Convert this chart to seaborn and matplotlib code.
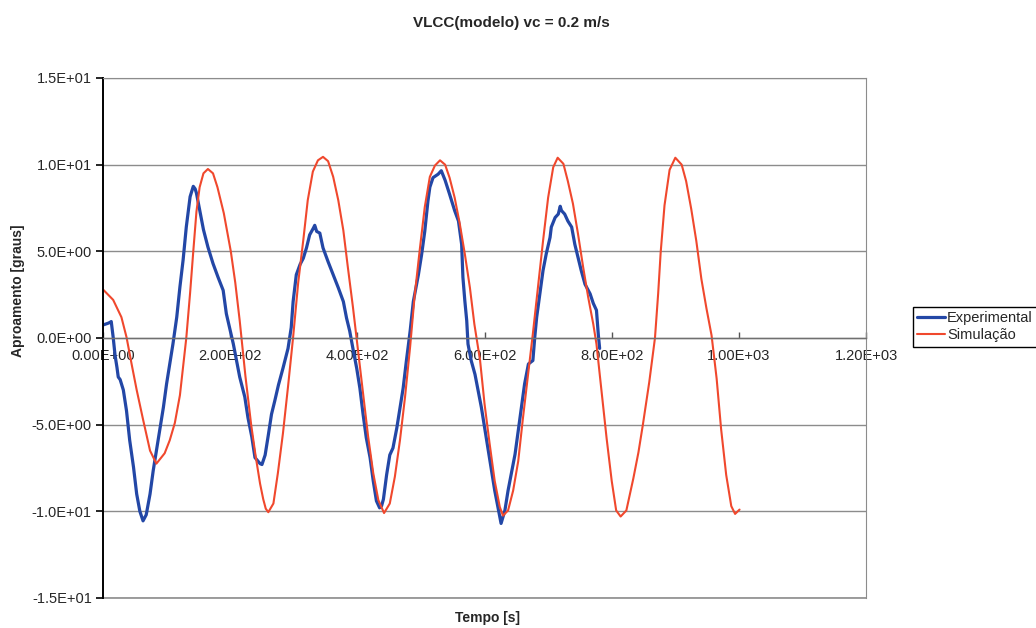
import matplotlib
matplotlib.use("Agg")
import matplotlib.pyplot as plt
from matplotlib.ticker import FuncFormatter
import seaborn as sns
import pandas as pd

# Experimental heading record (time in s, heading in degrees)
exp_t = [0, 8, 11, 13, 16, 19, 22, 24, 27, 32,
         37, 42, 48, 53, 58, 63, 68, 74, 79, 84,
         90, 95, 100, 105, 110, 116, 121, 126, 131, 137,
         142, 145, 147, 152, 158, 165, 173, 181, 189, 194,
         200, 205, 210, 215, 223, 228, 234, 239, 247, 250,
         255, 260, 265, 270, 276, 283, 291, 296, 299, 304,
         310, 315, 320, 325, 331, 333, 336, 341, 346, 354,
         362, 370, 378, 383, 388, 393, 399, 404, 409, 414,
         420, 425, 430, 435, 438, 441, 446, 451, 456, 462,
         467, 472, 477, 483, 488, 496, 501, 506, 511, 514,
         519, 527, 532, 538, 545, 553, 559, 564, 566, 569,
         572, 574, 579, 585, 590, 595, 600, 606, 611, 616,
         621, 626, 632, 637, 642, 648, 653, 658, 663, 669,
         676, 679, 682, 687, 692, 697, 703, 705, 711, 716,
         719, 721, 726, 731, 737, 742, 747, 752, 758, 766,
         771, 776, 779, 781]
exp_v = [0.75, 0.85, 0.9, 0.95, 0.05, -1.0, -1.7, -2.25, -2.4, -3.0,
         -4.2, -5.9, -7.45, -9.0, -10.0, -10.55, -10.2, -9.0, -7.65, -6.5,
         -5.15, -4.0, -2.65, -1.5, -0.35, 1.2, 2.95, 4.5, 6.4, 8.15,
         8.75, 8.6, 8.35, 7.4, 6.25, 5.25, 4.3, 3.5, 2.75, 1.4,
         0.45, -0.35, -1.3, -2.25, -3.4, -4.6, -5.7, -6.9, -7.25, -7.3,
         -6.75, -5.6, -4.4, -3.65, -2.7, -1.75, -0.6, 0.6, 2.1, 3.65,
         4.25, 4.6, 5.2, 5.95, 6.35, 6.5, 6.15, 6.05, 5.2, 4.4,
         3.65, 2.9, 2.1, 1.15, 0.4, -0.6, -1.75, -2.9, -4.4, -5.75,
         -6.9, -8.25, -9.4, -9.8, -9.7, -9.3, -7.9, -6.75, -6.35, -5.2,
         -4.05, -2.9, -1.35, 0.4, 2.1, 3.65, 4.8, 6.15, 7.9, 8.7,
         9.25, 9.45, 9.65, 9.1, 8.3, 7.35, 6.75, 5.4, 3.5, 2.15,
         1.0, -0.35, -1.3, -2.1, -3.05, -4.0, -5.15, -6.5, -7.65, -8.8,
         -9.75, -10.7, -9.95, -8.8, -7.85, -6.7, -5.35, -4.0, -2.65, -1.5,
         -1.3, 0.05, 1.2, 2.55, 3.9, 4.85, 5.8, 6.4, 6.95, 7.15,
         7.6, 7.35, 7.15, 6.75, 6.4, 5.4, 4.65, 3.9, 3.1, 2.55,
         2.0, 1.6, 0.15, -0.6]

# Simulated heading (time in s, heading in degrees)
sim_t = [0, 16, 29, 37, 45, 53, 63, 74, 84, 97,
         105, 113, 121, 131, 137, 142, 147, 152, 158, 165,
         173, 180, 190, 196, 201, 208, 215, 224, 233, 240,
         247, 252, 256, 260, 268, 275, 283, 291, 299, 307,
         315, 322, 330, 338, 346, 354, 362, 370, 378, 385,
         393, 401, 409, 417, 425, 433, 442, 451, 459, 467,
         475, 483, 490, 498, 506, 514, 522, 530, 538, 545,
         553, 561, 569, 577, 584, 593, 600, 608, 616, 624,
         629, 637, 645, 653, 660, 668, 676, 684, 692, 700,
         708, 715, 724, 731, 739, 747, 755, 763, 771, 776,
         784, 792, 800, 807, 814, 823, 834, 842, 849, 859,
         868, 873, 877, 883, 891, 900, 910, 917, 925, 933,
         941, 949, 957, 965, 972, 980, 988, 994, 1001]
sim_v = [2.8, 2.2, 1.2, 0.05, -1.5, -3.0, -4.7, -6.5, -7.25, -6.65,
         -5.9, -4.9, -3.3, 0.0, 2.6, 5.0, 7.3, 8.7, 9.5, 9.75,
         9.5, 8.7, 7.2, 6.0, 5.0, 3.2, 1.0, -2.2, -5.0, -6.8,
         -8.4, -9.3, -9.85, -10.05, -9.55, -7.8, -5.5, -2.8, 0.05, 3.2,
         5.65, 7.95, 9.6, 10.25, 10.45, 10.2, 9.3, 7.95, 6.2, 4.1,
         1.8, -0.7, -3.2, -5.7, -7.8, -9.35, -10.1, -9.55, -8.0, -5.9,
         -3.4, -0.5, 2.4, 5.05, 7.55, 9.3, 9.95, 10.25, 10.0, 9.25,
         8.1, 6.6, 4.85, 2.9, 0.8, -1.3, -3.8, -6.1, -8.25, -9.75,
         -10.25, -9.95, -8.8, -7.1, -4.75, -2.25, 0.25, 2.9, 5.6, 8.1,
         9.85, 10.4, 10.05, 9.05, 7.75, 6.0, 4.1, 2.35, 0.8, -0.35,
         -3.1, -5.8, -8.25, -9.95, -10.3, -9.95, -8.1, -6.6, -5.0, -2.55,
         0.0, 2.55, 4.95, 7.65, 9.7, 10.4, 10.0, 9.05, 7.45, 5.6,
         3.4, 1.7, 0.15, -2.35, -5.25, -7.9, -9.7, -10.15, -9.9]

series_names = ["Experimental", "Simulação"]
series_colors = ["#2347a6", "#f0482d"]
x_ticks = [0, 200, 400, 600, 800, 1000, 1200]
y_ticks = [-15, -10, -5, 0, 5, 10, 15]

sns.set_style("white")
plt.rcParams["font.family"] = ["Liberation Sans", "DejaVu Sans"]

fig = plt.figure(figsize=(10.36, 6.28), dpi=100)
ax = fig.add_axes([0.0994, 0.0478, 0.7366, 0.8280])

df_exp = pd.DataFrame({"t": exp_t, "v": exp_v})
df_sim = pd.DataFrame({"t": sim_t, "v": sim_v})
sns.lineplot(data=df_exp, x="t", y="v", ax=ax, color=series_colors[0],
             linewidth=2.3, estimator=None, sort=False, label=series_names[0])
sns.lineplot(data=df_sim, x="t", y="v", ax=ax, color=series_colors[1],
             linewidth=1.5, estimator=None, sort=False, label=series_names[1])

ax.set_xlim(0, 1200)
ax.set_ylim(-15, 15)
ax.set_xticks(x_ticks)
ax.set_yticks(y_ticks)
ax.xaxis.set_major_formatter(FuncFormatter(lambda v, p: f"{v:.2E}"))
ax.yaxis.set_major_formatter(FuncFormatter(lambda v, p: f"{v:.1E}"))

# horizontal grid, plot-area border and the x axis crossing at zero
ax.yaxis.grid(True, color="#8c8c8c", linewidth=1.0)
ax.xaxis.grid(False)
ax.axhline(-15, color="#8c8c8c", linewidth=1.2, clip_on=False, zorder=1)
ax.spines["bottom"].set_position(("data", 0))
ax.spines["bottom"].set_color("#707070")
ax.spines["bottom"].set_linewidth(1.0)
ax.spines["top"].set_color("#8c8c8c")
ax.spines["right"].set_color("#8c8c8c")
ax.spines["left"].set_color("black")
ax.spines["left"].set_linewidth(1.4)

ax.tick_params(axis="x", direction="in", length=4, width=1, color="#555555",
               pad=8, labelsize=10.5, bottom=True)
ax.tick_params(axis="y", direction="out", length=5, width=1.2, color="black",
               pad=3, labelsize=10.5, left=True)

ax.set_xlabel("")
ax.set_ylabel("")
fig.text(0.494, 0.963, "VLCC(modelo) vc = 0.2 m/s", ha="center", va="center",
         fontsize=11, fontweight="bold")
fig.text(0.471, 0.016, "Tempo [s]", ha="center", va="center",
         fontsize=10, fontweight="bold")
fig.text(0.017, 0.537, "Aproamento [graus]", ha="center", va="center",
         rotation=90, fontsize=10, fontweight="bold")

handles, labels = ax.get_legend_handles_labels()
ax.legend(handles, labels, loc="upper left", bbox_to_anchor=(0.881, 0.511),
          bbox_transform=fig.transFigure, frameon=True, fancybox=False,
          edgecolor="black", framealpha=1, fontsize=10.5, borderpad=0.3,
          handlelength=1.9, handletextpad=0.15, labelspacing=0.2,
          borderaxespad=0)
ax.get_legend().get_frame().set_linewidth(1.0)

fig.savefig("out.png", dpi=100)
